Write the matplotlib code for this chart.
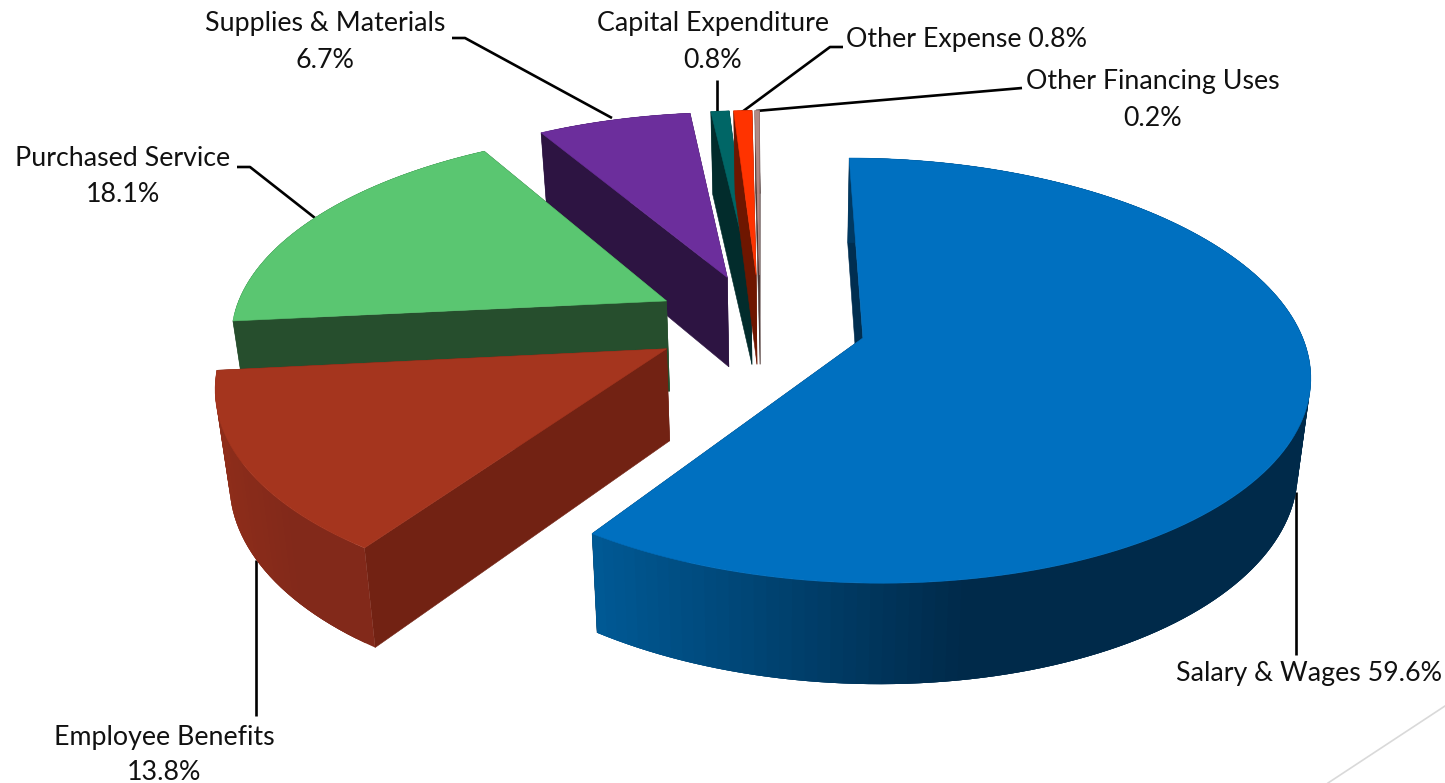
import numpy as np
import matplotlib
matplotlib.use("Agg")
import matplotlib.pyplot as plt
from matplotlib.collections import PolyCollection
from matplotlib.colors import to_rgb

labels = ["Salary & Wages", "Employee Benefits", "Purchased Service", "Supplies & Materials",
          "Capital Expenditure", "Other Expense", "Other Financing Uses"]
shares = [59.6, 13.8, 18.1, 6.7, 0.8, 0.8, 0.2]
top_colors = ["#0070C0", "#A5351E", "#5AC671", "#6C2E9C", "#006666", "#FF3300", "#B08A85"]
side_colors = ["#002E50", "#722213", "#264E2D", "#2D1442", "#022C2C", "#6E1600", "#4A3533"]
wall_left = ["#005A96", "#8E2D1A", "#264E2D", "#2D1442", "#022C2C", "#6E1600", "#4A3533"]
wall_right = ["#002A4A", "#82291A", "#264E2D", "#2D1442", "#022C2C", "#6E1600", "#4A3533"]
draw_order = [3, 2, 4, 5, 6, 1, 0]

# projection of the pie plane onto the picture
CX, CY, A, B, P, EXPLODE = 760.0, 323.0, 435.0, 203.0, 0.152, 0.245
DROP_X0, DROP_SX, DROP_Y, DROP_SY, DROP_Y0 = 790.0, 0.025, 92.0, 0.038, 347.0


def project(u, v):
    w = 1 + P * v
    return CX + A * u / w, CY - B * v / w


def drop(x, y):
    return x - DROP_SX * (x - DROP_X0), y + DROP_Y + DROP_SY * (y - DROP_Y0)


fig = plt.figure(figsize=(14.45, 7.83), dpi=100)
ax = fig.add_axes([0, 0, 1, 1])
ax.set_xlim(0, 1445)
ax.set_ylim(783, 0)
ax.axis("off")

edges = np.concatenate([[0], np.cumsum(shares)]) / sum(shares) * 2 * np.pi


def poly(pts, c, z):
    ax.fill([p[0] for p in pts], [p[1] for p in pts], facecolor=c, edgecolor=c, lw=0.4, zorder=z)


for rank, i in enumerate(draw_order):
    a0, a1 = edges[i], edges[i + 1]
    mid = (a0 + a1) / 2
    cu, cv = EXPLODE * np.sin(mid), EXPLODE * np.cos(mid)
    t = np.linspace(a0, a1, max(6, int((a1 - a0) * 40)))
    ax_, ay_ = project(cu + np.sin(t), cv + np.cos(t))
    ox, oy = project(cu, cv)
    bx_, by_ = drop(ax_, ay_)
    obx, oby = drop(ox, oy)
    z = 2 + rank * 3
    # radial sides
    poly([(ox, oy), (ax_[0], ay_[0]), (bx_[0], by_[0]), (obx, oby)], side_colors[i], z)
    poly([(ox, oy), (ax_[-1], ay_[-1]), (bx_[-1], by_[-1]), (obx, oby)], side_colors[i], z)
    # outer wall, shaded across the picture; each band overlaps the next to hide seams
    quads, cols = [], []
    cl, cr = np.array(to_rgb(wall_left[i])), np.array(to_rgb(wall_right[i]))
    xmin, xmax = ax_.min(), ax_.max()
    n = len(t)
    for k in range(n - 1):
        e = min(k + 3, n - 1)
        quads.append([(ax_[j], ay_[j]) for j in range(k, e + 1)] + [(bx_[j], by_[j]) for j in range(e, k - 1, -1)])
        f = np.clip((ax_[k] - xmin) / max(xmax - xmin, 1) * 1.9, 0, 1)
        cols.append(cl + (cr - cl) * f)
    ax.add_collection(PolyCollection(quads, facecolors=cols, edgecolors="none", zorder=z + 1))
    # top surface
    poly([(ox, oy)] + list(zip(ax_, ay_)), top_colors[i], z + 2)

# leader lines
leaders = [
    ([1296, 1296], [492, 655]),
    ([256, 256], [560, 716]),
    ([237, 250, 315], [167, 167, 218]),
    ([452, 465, 612], [38, 38, 118]),
    ([717, 717], [80, 113]),
    ([843, 830, 742], [47, 47, 112]),
    ([1022, 756], [88, 111]),
]
for xs, ys in leaders:
    ax.plot(xs, ys, color="black", lw=1.9, zorder=1, solid_capstyle="butt")

# slide decoration
ax.plot([1445, 1328], [706, 783], color="#D9D9D9", lw=1.2, zorder=1)

# data labels
fs = 19.3
texts = [
    (1309, 674, f"{labels[0]} {shares[0]}%"),
    (164, 737, labels[1]), (164, 772, f"{shares[1]}%"),
    (123, 159, labels[2]), (123, 195, f"{shares[2]}%"),
    (325, 24, labels[3]), (325, 60, f"{shares[3]}%"),
    (713, 24, labels[4]), (713, 60, f"{shares[4]}%"),
    (966, 39, f"{labels[5]} {shares[5]}%"),
    (1153, 82, labels[6]), (1153, 118, f"{shares[6]}%"),
]
for x, y, s in texts:
    ax.text(x, y, s, ha="center", va="center", fontsize=fs, family="Lato", color="#111111", zorder=50)

fig.savefig("out.png", dpi=100)
